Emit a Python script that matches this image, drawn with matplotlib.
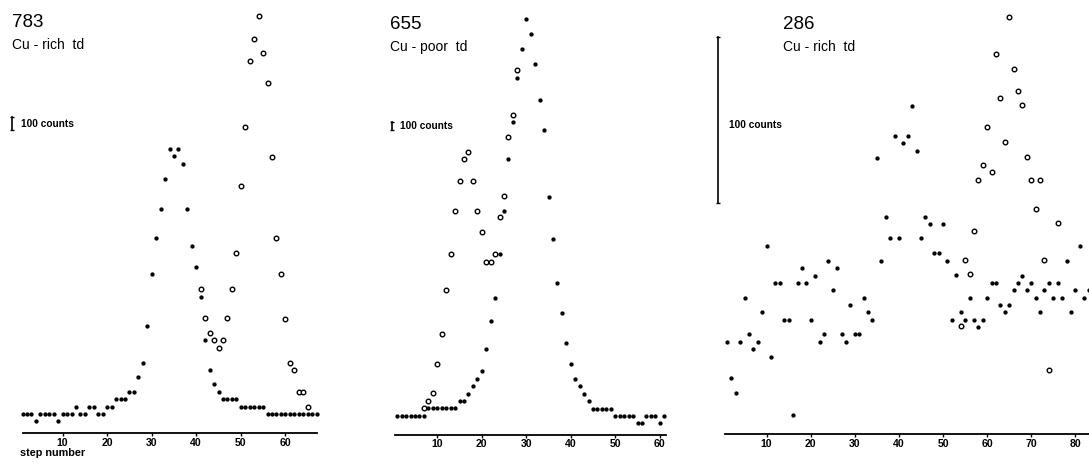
import matplotlib
matplotlib.use("Agg")
import matplotlib.pyplot as plt
from matplotlib.transforms import blended_transform_factory

# panel 783, Cu-rich td
p1_steps = list(range(1, 68))
p1_filled = [145, 145, 145, 90, 145, 145, 145, 145, 90, 145, 145, 145, 200, 145, 145,
             200, 200, 145, 145, 200, 200, 256, 256, 256, 311, 311, 421, 531, 807, 1196,
             1466, 1684, 1912, 2136, 2085, 2136, 2025, 1684, 1408, 1253, 1027, 702, 476,
             371, 313, 256, 256, 256, 256, 200, 200, 200, 200, 200, 200,
             145, 145, 145, 145, 145, 145, 145, 145, 145, 145, 145, 145]
p1_open_steps = list(range(41, 66))
p1_open = [1087, 867, 757, 702, 644, 702, 867, 1087, 1358, 1860, 2301, 2800, 2967,
           3138, 2858, 2634, 2078, 1469, 1196, 862, 531, 476, 311, 311, 200]

# panel 655, Cu-poor td
p2_steps = list(range(1, 62))
p2_filled = [233, 233, 233, 233, 233, 233, 233, 322, 322, 322, 322, 322, 322, 322,
             410, 410, 498, 590, 678, 768, 1033, 1377, 1647, 2181, 2703, 3322, 3768,
             4298, 4655, 5013, 4832, 4474, 4033, 3675, 2872, 2362, 1828, 1470, 1112,
             852, 678, 590, 498, 406, 317, 317, 317, 317, 317, 229, 229, 229, 229, 229,
             141, 141, 229, 229, 229, 141, 229]
p2_open_steps = list(range(7, 29))
p2_open = [322, 410, 502, 856, 1213, 1744, 2185, 2703, 3064, 3326, 3414, 3064, 2703,
           2450, 2088, 2088, 2181, 2623, 2880, 3595, 3856, 4398]

# panel 286, Cu-rich td
p3_steps = list(range(1, 84))
p3_filled = [55.6, 33.6, 24.8, 55.6, 82.0, 60.0, 51.2, 55.6, 73.2, 112.8, 46.6, 91.0,
             91.0, 68.8, 68.8, 11.6, 91.0, 99.6, 91.0, 68.8, 95.2, 55.6, 60.0, 104.0,
             86.4, 99.6, 60.0, 55.6, 77.6, 60.0, 60.0, 82.0, 73.2, 68.8, 165.8, 104.0,
             130.2, 117.8, 179.2, 117.8, 174.6, 179.2, 197.0, 170.0, 117.6, 130.2, 126.2,
             108.6, 108.6, 126.2, 104.0, 68.8, 95.6, 73.2, 68.8, 82.0, 68.8, 64.4, 68.8,
             82.0, 91.0, 91.0, 77.6, 73.6, 77.6, 86.4, 91.0, 95.2, 86.4, 90.6, 82.0, 73.6,
             86.4, 91.0, 82.0, 91.0, 82.0, 104.0, 73.2, 86.4, 112.8, 82.0, 86.4]
p3_open_steps = [54, 55, 56, 57, 58, 59, 60, 61, 62, 63, 64, 65, 66, 67, 68, 69, 70,
                 71, 72, 73, 74, 76]
p3_open = [64.8, 104.6, 96.0, 122.2, 152.6, 161.6, 184.2, 157.2, 228.2, 202.0, 175.2,
           250.6, 219.2, 206.2, 197.4, 166.4, 152.6, 135.0, 152.6, 104.6, 38.8, 126.6]

W, H = 1089, 468
FONT = "Liberation Sans"
plt.rcParams["font.family"] = [FONT, "DejaVu Sans"]

fig = plt.figure(figsize=(W / 100, H / 100), dpi=100)


def fx(x):
    return x / W


def fy(y):
    return 1 - y / H


def make_panel(left, right, axis_y, xlim, bar_px, ticks):
    top = 5
    ax = fig.add_axes([fx(left), fy(axis_y), (right - left) / W, (axis_y - top) / H])
    ax.set_xlim(*xlim)
    ax.set_ylim(0, (axis_y - top) * 100 / bar_px)
    for side in ("left", "right", "top"):
        ax.spines[side].set_visible(False)
    ax.spines["bottom"].set_linewidth(1.3)
    ax.set_yticks([])
    ax.set_xticks(ticks)
    ax.tick_params(axis="x", direction="out", length=1.8, width=1.0, pad=1.3,
                   labelsize=7.6)
    for lab in ax.get_xticklabels():
        lab.set_fontweight("bold")
    ax.patch.set_alpha(0)
    return ax


def draw_points(ax, steps, filled, open_steps, open_vals):
    ax.plot(open_steps, open_vals, linestyle="none", marker="o", markersize=3.3,
            markerfacecolor="white", markeredgecolor="black", markeredgewidth=1.0,
            clip_on=False, zorder=3)
    ax.plot(steps, filled, linestyle="none", marker="o", markersize=3.1,
            markerfacecolor="black", markeredgewidth=0, clip_on=False, zorder=4)


def scale_bar(ax, x_px, bottom_px, axis_y, bar_px, text_x, text_y, cap):
    trans = blended_transform_factory(fig.transFigure, ax.transData)
    y0 = (axis_y - bottom_px) * 100 / bar_px
    ax.plot([fx(x_px), fx(x_px)], [y0, y0 + 100], color="black", lw=1.2,
            transform=trans, clip_on=False)
    ax.plot([fx(x_px), fx(x_px)], [y0, y0 + 100], linestyle="none", marker="_",
            markersize=cap, markeredgewidth=1.0, color="black", transform=trans,
            clip_on=False)
    fig.text(fx(text_x), fy(text_y), "100 counts", fontsize=7.3, fontweight="bold",
             ha="left", va="center")


def titles(x, y_num, label):
    fig.text(fx(x), fy(y_num), label[0], fontsize=13.5, ha="left", va="top")
    fig.text(fx(x), fy(y_num + 24), label[1], fontsize=10, ha="left", va="top")


ax1 = make_panel(22.5, 316.5, 433.3, (1, 67), 13.3, [10, 20, 30, 40, 50, 60])
draw_points(ax1, p1_steps, p1_filled, p1_open_steps, p1_open)
scale_bar(ax1, 12, 130, 433.3, 13.3, 21, 124, 3.5)
titles(12, 14, ("783", "Cu - rich  td"))
fig.text(fx(20), fy(452.5), "step number", fontsize=7.8, fontweight="bold",
         ha="left", va="center")

ax2 = make_panel(395, 666, 435, (0.5, 61.4), 8.3, [10, 20, 30, 40, 50, 60])
draw_points(ax2, p2_steps, p2_filled, p2_open_steps, p2_open)
scale_bar(ax2, 391.7, 130, 435, 8.3, 400, 126, 3.5)
titles(390, 16, ("655", "Cu - poor  td"))

ax3 = make_panel(725, 1089, 434.3, (0.55, 83.1), 166.7, [10, 20, 30, 40, 50, 60, 70, 80])
draw_points(ax3, p3_steps, p3_filled, p3_open_steps, p3_open)
scale_bar(ax3, 717.7, 203.3, 434.3, 166.7, 729, 125, 2.5)
titles(783, 16, ("286", "Cu - rich  td"))

fig.savefig("out.png", dpi=100)
